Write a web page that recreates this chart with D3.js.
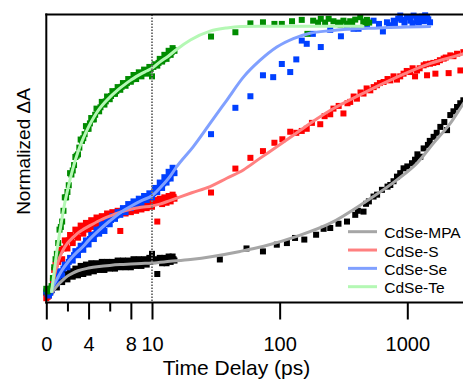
<!DOCTYPE html>
<html>
<head>
<meta charset="utf-8">
<script src="https://cdn.jsdelivr.net/npm/d3@7"></script>
<style>
  body { margin: 0; background: #fff; }
  svg { display: block; font-family: "Liberation Sans", Arial, sans-serif; }
</style>
</head>
<body>
<svg id="chart" width="463" height="379"></svg>
<script>
// time grids (ps) of the dense early-time data, shared by all samples
const denseTimes = [0, 0.25, 0.5, 0.75, 1, 1.25, 1.5, 1.75, 2, 2.25,
  2.5, 2.75, 3, 3.25, 3.5, 3.75, 4, 4.25, 4.5, 4.75,
  5, 5.25, 5.5, 5.75, 6, 6.25, 6.5, 6.75, 7, 7.25,
  7.5, 7.75, 8, 8.25, 8.5, 8.75, 9, 9.25, 9.5, 9.75,
  10, 10.5, 11, 11.5, 12, 12.5, 13, 13.5, 14, 14.5, 15];
const midTimes = [0.125, 0.375, 0.625, 0.875, 1.125, 1.375, 1.625, 1.875, 2.125, 2.375,
  2.625, 2.875, 3.125, 3.375, 3.625, 3.875, 4.125, 4.375, 4.625, 4.875,
  5.125, 5.375, 5.625, 5.875, 6.125, 6.375, 6.625, 6.875, 7.125, 7.375,
  7.625, 7.875, 8.125, 8.375, 8.625, 8.875, 9.125, 9.375, 9.625, 9.875,
  10.25, 10.75, 11.25, 11.75, 12.25, 12.75, 13.25, 13.75, 14.25, 14.75];

const mpaDense = [-0.005, 0, 0.005, 0.035, 0.015, 0.055, 0.035, 0.065, 0.045, 0.075,
  0.055, 0.085, 0.06, 0.095, 0.065, 0.1, 0.07, 0.105, 0.075, 0.105,
  0.08, 0.11, 0.08, 0.11, 0.085, 0.11, 0.085, 0.115, 0.09, 0.115,
  0.09, 0.115, 0.09, 0.12, 0.095, 0.12, 0.095, 0.12, 0.1, 0.125,
  0.14, 0.12, 0.065, 0.125, 0.105, 0.125, 0.105, 0.13, 0.11, 0.13, 0.115];
const mpaMid = [0, 0, 0.015, 0.025, 0.035, 0.045, 0.05, 0.06, 0.062, 0.07,
  0.072, 0.078, 0.08, 0.083, 0.086, 0.088, 0.09, 0.092, 0.093, 0.095,
  0.095, 0.097, 0.098, 0.1, 0.1, 0.1, 0.102, 0.103, 0.103, 0.104,
  0.105, 0.106, 0.106, 0.107, 0.108, 0.108, 0.109, 0.11, 0.11, 0.112,
  0.113, 0.114, 0.115, 0.116, 0.116, 0.117, 0.118, 0.118, 0.119, 0.12];
const sDense = [-0.025, -0.015, 0.01, 0.08, 0.07, 0.15, 0.12, 0.19, 0.16, 0.21,
  0.18, 0.23, 0.2, 0.245, 0.215, 0.255, 0.23, 0.265, 0.24, 0.275,
  0.25, 0.28, 0.26, 0.29, 0.27, 0.295, 0.275, 0.3, 0.225, 0.305,
  0.29, 0.31, 0.295, 0.32, 0.3, 0.325, 0.305, 0.33, 0.31, 0.335,
  0.315, 0.34, 0.26, 0.345, 0.325, 0.35, 0.33, 0.355, 0.335, 0.36, 0.345];
const sMid = [-0.02, 0, 0.04, 0.1, 0.11, 0.155, 0.16, 0.175, 0.19, 0.2,
  0.205, 0.215, 0.225, 0.23, 0.235, 0.24, 0.25, 0.25, 0.26, 0.262,
  0.268, 0.27, 0.278, 0.28, 0.285, 0.288, 0.292, 0.295, 0.298, 0.3,
  0.305, 0.307, 0.31, 0.312, 0.315, 0.317, 0.32, 0.322, 0.324, 0.326,
  0.33, 0.332, 0.335, 0.338, 0.34, 0.342, 0.345, 0.347, 0.35, 0.352];
const seDense = [0, -0.015, 0.005, 0.03, 0.03, 0.075, 0.06, 0.1, 0.09, 0.125,
  0.115, 0.15, 0.135, 0.17, 0.155, 0.19, 0.175, 0.21, 0.195, 0.23,
  0.215, 0.25, 0.225, 0.262, 0.25, 0.28, 0.27, 0.295, 0.285, 0.31,
  0.295, 0.325, 0.31, 0.335, 0.32, 0.345, 0.33, 0.355, 0.34, 0.365,
  0.35, 0.385, 0.37, 0.405, 0.385, 0.425, 0.405, 0.445, 0.42, 0.46, 0.44];
const seMid = [-0.01, -0.005, 0.015, 0.04, 0.055, 0.07, 0.085, 0.095, 0.11, 0.12,
  0.135, 0.143, 0.155, 0.163, 0.175, 0.183, 0.195, 0.203, 0.213, 0.222,
  0.232, 0.24, 0.25, 0.257, 0.266, 0.274, 0.282, 0.29, 0.297, 0.304,
  0.31, 0.317, 0.322, 0.328, 0.333, 0.338, 0.343, 0.348, 0.352, 0.357,
  0.365, 0.375, 0.385, 0.395, 0.402, 0.412, 0.42, 0.43, 0.44, 0.45];
const teDense = [0.01, 0.005, 0.02, 0.09, 0.14, 0.23, 0.26, 0.35, 0.37, 0.44,
  0.45, 0.5, 0.51, 0.565, 0.57, 0.615, 0.605, 0.645, 0.64, 0.68,
  0.67, 0.705, 0.695, 0.725, 0.715, 0.745, 0.735, 0.76, 0.75, 0.775,
  0.765, 0.79, 0.78, 0.805, 0.79, 0.815, 0.8, 0.825, 0.81, 0.835,
  0.8, 0.845, 0.84, 0.865, 0.855, 0.88, 0.865, 0.895, 0.88, 0.905, 0.895];
const teMid = [0, 0.01, 0.05, 0.12, 0.18, 0.24, 0.3, 0.35, 0.395, 0.435,
  0.47, 0.505, 0.535, 0.56, 0.585, 0.605, 0.625, 0.64, 0.657, 0.672,
  0.685, 0.697, 0.707, 0.717, 0.727, 0.736, 0.745, 0.753, 0.761, 0.768,
  0.775, 0.782, 0.789, 0.796, 0.802, 0.807, 0.812, 0.817, 0.822, 0.827,
  0.835, 0.842, 0.85, 0.857, 0.863, 0.87, 0.877, 0.883, 0.89, 0.897];

// later, sparser points [time ps, normalized dA]
const mpaLate = [[34, 0.119], [55, 0.16], [74, 0.149], [95, 0.174], [114, 0.18], [132, 0.199],
  [156, 0.193], [193, 0.211], [221, 0.233], [249, 0.236], [289, 0.252], [337, 0.26],
  [391, 0.285], [410, 0.3], [454, 0.297], [475, 0.326], [500, 0.335], [544, 0.353],
  [580, 0.36], [633, 0.378], [700, 0.39], [736, 0.396], [780, 0.41], [830, 0.427],
  [880, 0.44], [935, 0.458], [1000, 0.465], [1088, 0.477], [1150, 0.49], [1200, 0.51],
  [1265, 0.501], [1343, 0.532], [1450, 0.545], [1500, 0.56], [1607, 0.575], [1700, 0.59],
  [1815, 0.612], [1950, 0.63], [2048, 0.6], [2172, 0.656], [2300, 0.67], [2453, 0.686],
  [2600, 0.7], [2749, 0.711]];
const sLate = [[29, 0.368], [45, 0.457], [59, 0.497], [74, 0.522], [91, 0.553], [105, 0.566],
  [121, 0.594], [135, 0.59], [149, 0.597], [163, 0.605], [179, 0.627], [208, 0.622],
  [225, 0.652], [249, 0.659], [264, 0.68], [290, 0.69], [316, 0.662], [340, 0.7],
  [357, 0.705], [380, 0.725], [403, 0.717], [430, 0.74], [454, 0.736], [480, 0.755],
  [513, 0.748], [545, 0.76], [578, 0.767], [610, 0.775], [652, 0.779], [700, 0.79],
  [736, 0.785], [780, 0.8], [830, 0.788], [880, 0.8], [935, 0.81], [990, 0.82],
  [1056, 0.816], [1100, 0.83], [1150, 0.8], [1192, 0.822], [1250, 0.83], [1343, 0.841],
  [1400, 0.845], [1428, 0.804], [1507, 0.847], [1600, 0.85], [1660, 0.81], [1710, 0.853],
  [1800, 0.86], [1927, 0.866], [2000, 0.87], [2108, 0.812], [2172, 0.878], [2300, 0.875],
  [2453, 0.884], [2606, 0.822], [2749, 0.89]];
const seLate = [[29, 0.585], [45, 0.683], [59, 0.726], [74, 0.804], [89, 0.797], [104, 0.846],
  [121, 0.816], [135, 0.863], [149, 0.933], [163, 0.921], [182, 0.958], [210, 0.909],
  [249, 0.973], [302, 0.949], [337, 0.983], [379, 0.977], [415, 0.977], [483, 0.989],
  [544, 1.007], [600, 0.995], [644, 0.967], [693, 1.001], [720, 0.99], [782, 1.007],
  [800, 0.995], [849, 1.015], [881, 1.026], [900, 1.01], [950, 1.0], [995, 1.02],
  [1040, 1.02], [1056, 1.007], [1100, 0.998], [1120, 1.026], [1180, 1.02], [1197, 1.004],
  [1230, 1.0], [1265, 1.014], [1300, 1.022], [1350, 1.005], [1380, 1.027], [1428, 1.02],
  [1460, 1.012], [1507, 1.001]];
const teLate = [[29, 0.948], [45, 0.964], [59, 0.997], [74, 1.001], [91, 0.995], [104, 0.995],
  [125, 1.005], [149, 1.01], [165, 0.958], [183, 1.007], [200, 1.0], [210, 1.014],
  [227, 1.0], [242, 1.014], [264, 1.005], [287, 1.0], [300, 0.992], [316, 1.007],
  [338, 0.996], [357, 1.005], [370, 0.995], [391, 1.011], [428, 1.02], [452, 1.004],
  [470, 0.998], [483, 1.01], [503, 1.0]];

// fitted curves [time ps, normalized dA]
const mpaFit = [[0.6, 0], [0.8, 0.01], [1, 0.02], [1.5, 0.04], [2, 0.057], [2.5, 0.068],
  [3, 0.077], [4, 0.087], [5, 0.093], [6, 0.097], [7, 0.1], [8, 0.102], [9, 0.104],
  [10, 0.106], [13.8, 0.112], [20, 0.119], [49, 0.149], [75, 0.168], [136, 0.205],
  [250, 0.254], [454, 0.329], [830, 0.415], [1190, 0.477], [1600, 0.551], [2170, 0.625],
  [2750, 0.699], [3000, 0.725]];
const sFit = [[0.5, 0], [0.66, 0.032], [0.8, 0.065], [1, 0.095], [1.25, 0.125], [1.5, 0.147],
  [1.75, 0.165], [2, 0.18], [2.5, 0.2], [3, 0.218], [3.5, 0.231], [4, 0.242], [5, 0.263],
  [6, 0.28], [7, 0.295], [8, 0.306], [9, 0.313], [10, 0.318], [11.5, 0.325], [13.8, 0.338],
  [20.5, 0.367], [28.5, 0.39], [38.5, 0.421], [52, 0.452], [70, 0.495], [95, 0.538],
  [128, 0.581], [173, 0.625], [250, 0.674], [450, 0.737], [830, 0.797], [1500, 0.847],
  [2750, 0.884], [3000, 0.89]];
const seFit = [[0.5, 0], [0.66, 0.02], [1, 0.045], [1.5, 0.08], [2, 0.107], [2.5, 0.13],
  [3, 0.15], [3.5, 0.168], [4, 0.19], [5, 0.228], [6, 0.262], [7, 0.293], [8, 0.317],
  [9, 0.338], [10, 0.356], [11.5, 0.384], [13.8, 0.427], [15.6, 0.464], [21, 0.538],
  [28.5, 0.625], [38.5, 0.711], [52, 0.797], [70, 0.859], [95, 0.909], [128, 0.94],
  [173, 0.96], [250, 0.97], [600, 0.98], [1500, 0.985]];
const teFit = [[0.5, 0], [0.75, 0.075], [1, 0.15], [1.25, 0.215], [1.5, 0.275], [1.75, 0.33],
  [2, 0.375], [2.5, 0.455], [3, 0.52], [3.5, 0.57], [4, 0.612], [4.5, 0.648], [5, 0.678],
  [5.5, 0.702], [6, 0.722], [6.5, 0.74], [7, 0.757], [7.5, 0.772], [8, 0.786], [8.5, 0.799],
  [9, 0.81], [9.5, 0.82], [10, 0.83], [11.5, 0.853], [13.4, 0.875], [15.6, 0.9], [20, 0.935],
  [28.5, 0.968], [38.5, 0.98], [50, 0.985], [70, 0.986], [250, 0.986], [450, 0.986]];

const seriesNames = ["CdSe-MPA", "CdSe-S", "CdSe-Se", "CdSe-Te"];
const linTicks = [0, 2, 4, 6, 8, 10];
const linLabels = [0, 4, 8, 10];
const logTicks = [100, 1000];

const series = [
  { name: seriesNames[0], dense: mpaDense, mid: mpaMid, late: mpaLate, fit: mpaFit, dot: "#000000", line: "#a6a6a6" },
  { name: seriesNames[1], dense: sDense, mid: sMid, late: sLate, fit: sFit, dot: "#ff0000", line: "#ff8080" },
  { name: seriesNames[2], dense: seDense, mid: seMid, late: seLate, fit: seFit, dot: "#0040ff", line: "#80a0ff" },
  { name: seriesNames[3], dense: teDense, mid: teMid, late: teLate, fit: teFit, dot: "#008c00", line: "#b4f8b4" }
];

const svg = d3.select("#chart");

// split time axis: linear up to 10 ps, log after
const xLin = d3.scaleLinear().domain([0, 10]).range([46.3, 152]);
const xLog = d3.scaleLog().domain([10, 1000]).range([152, 407.3]);
const x = t => (t <= 10 ? xLin(t) : xLog(t));
const y = d3.scaleLinear().domain([-0.041, 1.03]).range([302.5, 14.5]);

const plotRight = 463;
const sq = 6;

// points
series.forEach(s => {
  const pts = denseTimes.map((t, i) => [t, s.dense[i]])
    .concat(midTimes.map((t, i) => [t, s.mid[i]]))
    .concat(s.late);
  svg.append("g")
    .selectAll("rect")
    .data(pts)
    .enter()
    .append("rect")
    .attr("x", d => x(d[0]) - sq / 2)
    .attr("y", d => y(d[1]) - sq / 2)
    .attr("width", sq)
    .attr("height", sq)
    .attr("fill", s.dot);
});

// fits on top
const line = d3.line().x(d => x(d[0])).y(d => y(d[1])).curve(d3.curveMonotoneX);
series.forEach(s => {
  svg.append("path")
    .attr("d", line(s.fit))
    .attr("fill", "none")
    .attr("stroke", s.line)
    .attr("stroke-width", 3)
    .attr("stroke-linecap", "round");
});

// dotted line at the axis break
svg.append("line")
  .attr("x1", xLin(10)).attr("x2", xLin(10))
  .attr("y1", 14.5).attr("y2", 302.5)
  .attr("stroke", "#777")
  .attr("stroke-width", 2)
  .attr("stroke-dasharray", "1.5,1.5");

// frame: left, top, bottom
svg.append("line").attr("x1", 46.3).attr("x2", 46.3).attr("y1", 13.5).attr("y2", 303.5)
  .attr("stroke", "#000").attr("stroke-width", 2);
svg.append("line").attr("x1", 45.3).attr("x2", plotRight).attr("y1", 14.5).attr("y2", 14.5)
  .attr("stroke", "#000").attr("stroke-width", 2);

const gx = svg.append("g").attr("transform", "translate(0,302.5)");
gx.append("g")
  .call(d3.axisBottom(xLin).tickValues(linTicks).tickSize(17)
    .tickFormat(d => (linLabels.includes(d) ? d : "")));
gx.append("g")
  .call(d3.axisBottom(xLog).tickValues(logTicks).tickSize(17).tickFormat(d3.format("d")));
gx.selectAll(".domain").remove();
gx.selectAll(".tick line").attr("stroke", "#000").attr("stroke-width", 2)
  .attr("y2", d => (linLabels.includes(d) || logTicks.includes(d) ? 17 : 9));
gx.selectAll(".tick text")
  .attr("y", 48).attr("dy", null)
  .attr("fill", "#000")
  .style("font-size", "20px")
  .style("font-family", "'Liberation Sans', Arial, sans-serif");
gx.append("line").attr("x1", 45.3).attr("x2", plotRight).attr("y1", 0).attr("y2", 0)
  .attr("stroke", "#000").attr("stroke-width", 2);

// axis titles
svg.append("text")
  .attr("x", 236.5).attr("y", 375)
  .attr("text-anchor", "middle")
  .style("font-size", "21px")
  .text("Time Delay (ps)");
svg.append("text")
  .attr("transform", "translate(30,151.5) rotate(-90)")
  .attr("text-anchor", "middle")
  .style("font-size", "19px")
  .text("Normalized \u0394A");

// legend
const legend = svg.append("g").attr("transform", "translate(348,231.7)");
series.forEach((s, i) => {
  const g = legend.append("g").attr("transform", `translate(0,${i * 18.33})`);
  g.append("line").attr("x1", 0).attr("x2", 29).attr("y1", 0).attr("y2", 0)
    .attr("stroke", s.line).attr("stroke-width", 3);
  g.append("text").attr("x", 36.3).attr("y", 6.5)
    .style("font-size", "15.5px")
    .text(s.name);
});
</script>
</body>
</html>
